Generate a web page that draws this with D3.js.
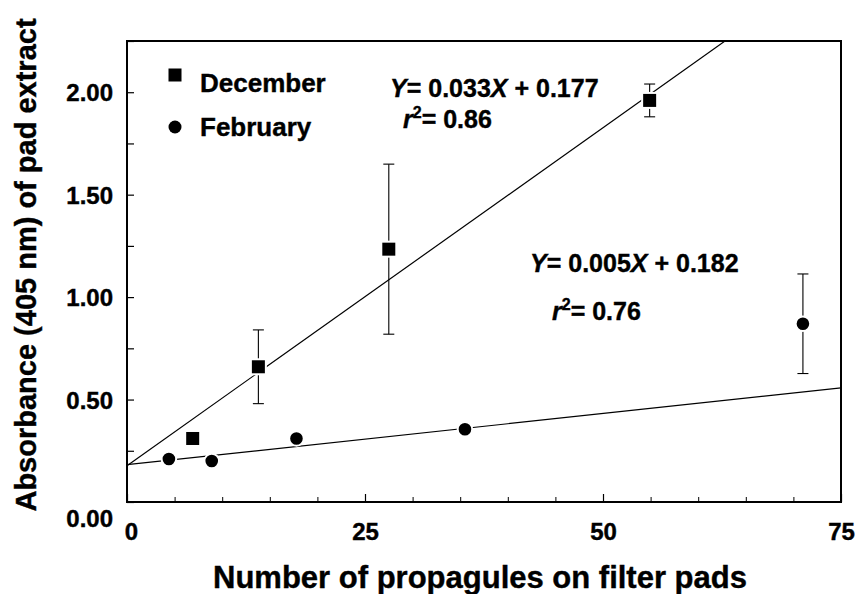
<!DOCTYPE html>
<html>
<head>
<meta charset="utf-8">
<script src="https://cdn.jsdelivr.net/npm/d3@7"></script>
<style>
  body { margin: 0; background: #fff; }
  text { font-family: "Liberation Sans", Arial, sans-serif; font-weight: bold; fill: #000; stroke: #000; stroke-width: 0.4px; }
</style>
</head>
<body>
<div id="chart"></div>
<script>
// data
const decX = [6.9, 13.8, 27.5, 54.9];
const decY = [0.31, 0.66, 1.234, 1.96];
const decErr = [0, 0.18, 0.415, 0.08];

const febX = [4.4, 8.9, 17.8, 35.5, 71.0];
const febY = [0.21, 0.20, 0.31, 0.355, 0.87];
const febErr = [0, 0, 0, 0, 0.243];

// regression lines: [slope, intercept]
const decFit = [0.033, 0.177];
const febFit = [0.005, 0.182];

const xTicks = [0, 25, 50, 75];
const yTicks = [0, 0.5, 1.0, 1.5, 2.0];

drawChart();
function drawChart() {
const width = 860, height = 594;
const margin = {left: 127, right: 19, top: 41, bottom: 92};
const innerW = width - margin.left - margin.right;
const innerH = height - margin.top - margin.bottom;

let svg = d3.select('#chart')
    .append('svg')
    .attr('width', width)
    .attr('height', height);

const x = d3.scaleLinear().domain([0, 75]).range([0, innerW]);
const y = d3.scaleLinear().domain([0, 2.25]).range([innerH, 0]);

let g = svg.append('g').attr('transform', `translate(${margin.left}, ${margin.top})`);

// clip so the fitted lines stop at the frame
g.append('clipPath').attr('id', 'clip')
    .append('rect').attr('width', innerW).attr('height', innerH);

function drawXAxis() {
    // minor ticks every 5
    g.append('g').attr('class', 'x-minor')
        .attr('transform', `translate(0, ${innerH})`)
        .call(d3.axisBottom(x).tickValues(d3.range(0, 76, 5)).tickSize(-5).tickFormat(''))
        .call(a => a.select('.domain').remove());

    const xa = g.append('g').attr('class', 'x-axis')
        .attr('transform', `translate(0, ${innerH})`)
        .call(d3.axisBottom(x).tickValues(xTicks).tickSize(-8).tickFormat(d3.format('d')));
    xa.select('.domain').remove();
    xa.selectAll('line').attr('stroke', '#000').attr('stroke-width', 1.2);
    xa.selectAll('text')
        .attr('dy', null)
        .attr('y', 38)
        .attr('x', d => d === 0 ? 4 : 0)
        .style('font-size', '24px');
}

function drawYAxis() {
    const ya = g.append('g').attr('class', 'y-axis')
        .call(d3.axisLeft(y).tickValues(d3.range(0, 2.26, 0.25)).tickSize(-7)
            .tickFormat(d => yTicks.some(t => Math.abs(t - d) < 1e-6) ? d3.format('.2f')(d) : ''));
    ya.select('.domain').remove();
    ya.selectAll('line').attr('stroke', '#000').attr('stroke-width', 1.2);
    ya.selectAll('text')
        .attr('x', -14)
        .attr('dy', d => d === 0 ? '1.0em' : '0.36em')
        .style('font-size', '24px');
}

function drawFrame() {
    g.append('rect')
        .attr('width', innerW).attr('height', innerH)
        .attr('fill', 'none').attr('stroke', '#000').attr('stroke-width', 2);
}

function drawLines() {
    [decFit, febFit].forEach(f => {
        const pts = [0, 75].map(v => ({x: v, y: f[0] * v + f[1]}));
        g.append('path')
            .datum(pts)
            .attr('clip-path', 'url(#clip)')
            .attr('d', d3.line().x(d => x(d.x)).y(d => y(d.y)))
            .attr('fill', 'none').attr('stroke', '#000').attr('stroke-width', 1.2);
    });
}

function drawErrorBars(xs, ys, es) {
    xs.forEach((v, i) => {
        if (!es[i]) return;
        const e = g.append('g');
        e.append('line')
            .attr('x1', x(v)).attr('x2', x(v))
            .attr('y1', y(ys[i] - es[i])).attr('y2', y(ys[i] + es[i]));
        [ys[i] - es[i], ys[i] + es[i]].forEach(c => {
            e.append('line')
                .attr('x1', x(v) - 5.5).attr('x2', x(v) + 5.5)
                .attr('y1', y(c)).attr('y2', y(c));
        });
        e.selectAll('line').attr('stroke', '#000').attr('stroke-width', 1.1);
    });
}

function drawPoints() {
    const dec = decX.map((v, i) => ({x: v, y: decY[i]}));
    const feb = febX.map((v, i) => ({x: v, y: febY[i]}));

    // white outline gives the small gap where error bars meet the marker
    g.selectAll('.sq').data(dec).enter()
        .append('rect').attr('class', 'sq')
        .attr('x', d => x(d.x) - 7.5).attr('y', d => y(d.y) - 7.5)
        .attr('width', 15).attr('height', 15)
        .attr('fill', '#000').attr('stroke', '#fff').attr('stroke-width', 2);

    g.selectAll('.dot').data(feb).enter()
        .append('circle').attr('class', 'dot')
        .attr('cx', d => x(d.x)).attr('cy', d => y(d.y)).attr('r', 7.3)
        .attr('fill', '#000').attr('stroke', '#fff').attr('stroke-width', 2);
}

function drawLegend() {
    svg.append('rect').attr('x', 168.5).attr('y', 68.5).attr('width', 13).attr('height', 13).attr('fill', '#000');
    svg.append('circle').attr('cx', 175).attr('cy', 127).attr('r', 6.5).attr('fill', '#000');
    svg.append('text').attr('x', 200).attr('y', 92).style('font-size', '26px').text('December');
    svg.append('text').attr('x', 200).attr('y', 136).style('font-size', '26px').text('February');
}

// equation text, italic Y / X / r
function drawEquation(f, r2, ex, ey, rx, ry) {
    let t = svg.append('text').attr('x', ex).attr('y', ey).style('font-size', '25px');
    t.append('tspan').style('font-style', 'italic').text('Y');
    t.append('tspan').text('= ' + d3.format('.3f')(f[0]));
    t.append('tspan').style('font-style', 'italic').text('X');
    t.append('tspan').text(' + ' + d3.format('.3f')(f[1]));

    let r = svg.append('text').attr('x', rx).attr('y', ry).style('font-size', '25px');
    r.append('tspan').style('font-style', 'italic').text('r');
    r.append('tspan').attr('dy', -10).style('font-size', '16px').text('2');
    r.append('tspan').attr('dy', 10).text('= ' + d3.format('.2f')(r2));
}

function drawTitles() {
    svg.append('text')
        .attr('text-anchor', 'middle')
        .attr('x', 480).attr('y', 588)
        .style('font-size', '31px')
        .text('Number of propagules on filter pads');
    svg.append('text')
        .attr('text-anchor', 'middle')
        .attr('transform', 'translate(36, 265) rotate(-90)')
        .style('font-size', '29px')
        .text('Absorbance (405 nm) of pad extract');
}

drawXAxis();
drawYAxis();
drawLines();
drawErrorBars(decX, decY, decErr);
drawErrorBars(febX, febY, febErr);
drawPoints();
drawFrame();
drawLegend();
drawEquation(decFit, 0.86, 390, 97, 403, 128);
drawEquation(febFit, 0.76, 530, 272, 552, 320);
drawTitles();
}
</script>
</body>
</html>
